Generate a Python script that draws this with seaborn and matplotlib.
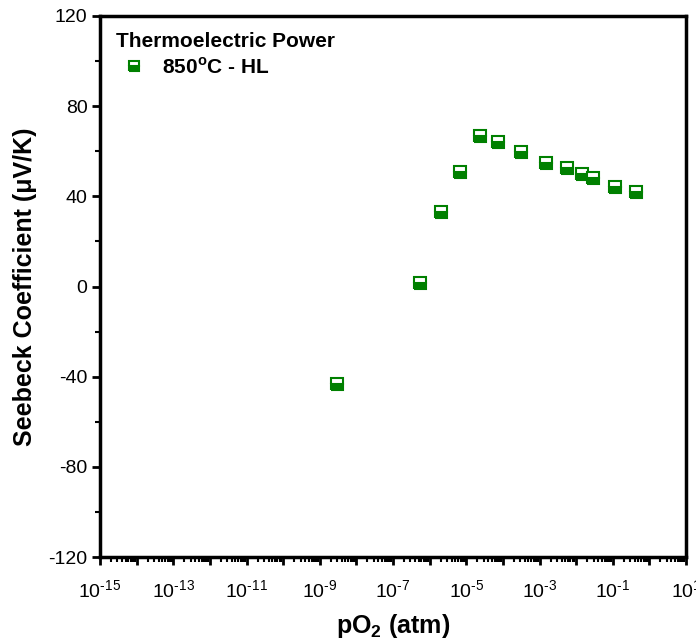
import numpy as np
import pandas as pd
import matplotlib
matplotlib.use("Agg")
import matplotlib.pyplot as plt
import matplotlib.ticker as mticker
import seaborn as sns

# Data
log_po2 = [-8.52, -6.26, -5.68, -5.16, -4.62, -4.13, -3.50, -2.81, -2.24, -1.83, -1.53, -0.93, -0.36]
seebeck = [-43.3, 1.5, 33.0, 50.8, 66.8, 64.0, 59.7, 54.8, 52.6, 50.0, 48.0, 44.0, 42.0]
series_label = "850$^{\\mathbf{o}}$C - HL"
legend_title = "Thermoelectric Power"
x_label = "pO$_\\mathbf{2}$ (atm)"
y_label = "Seebeck Coefficient (\u03bcV/K)"
y_ticks = [-120, -80, -40, 0, 40, 80, 120]
x_exponents = list(range(-15, 2))

df = pd.DataFrame({"pO2": np.power(10.0, log_po2), "S": seebeck})

sns.set_theme(style="ticks")
plt.rcParams["font.family"] = ["Liberation Sans", "DejaVu Sans"]
plt.rcParams["mathtext.fontset"] = "custom"
plt.rcParams["mathtext.rm"] = "Liberation Sans"
plt.rcParams["mathtext.bf"] = "Liberation Sans:bold"
plt.rcParams["axes.unicode_minus"] = False
for k in ["text.color", "axes.labelcolor", "xtick.color", "ytick.color", "axes.edgecolor"]:
    plt.rcParams[k] = "black"

fig = plt.figure(figsize=(6.96, 6.41), dpi=100)
ax = fig.add_axes([100 / 696, (641 - 557) / 641, 586 / 696, 541 / 641])

sns.lineplot(data=df, x="pO2", y="S", ax=ax, estimator=None, sort=False,
             linestyle="", marker="s", markersize=8, fillstyle="bottom",
             color="#008000", markerfacecoloralt="white", markeredgecolor="#008000",
             markeredgewidth=1.5, label=series_label)

ax.set_xscale("log")
ax.set_xlim(1e-15, 10)
ax.set_ylim(-120, 120)

ax.set_xticks([10.0 ** e for e in x_exponents])
ax.set_xticklabels([("$\\mathregular{10^{\\text{%d}}}$" % e) if e % 2 != 0 else "" for e in x_exponents])
ax.xaxis.set_minor_locator(mticker.LogLocator(base=10, subs=np.arange(2, 10), numticks=100))
ax.xaxis.set_minor_formatter(mticker.NullFormatter())

ax.set_yticks(y_ticks)
ax.set_yticklabels([str(v) for v in y_ticks])
ax.yaxis.set_minor_locator(mticker.MultipleLocator(20))

for s in ax.spines.values():
    s.set_linewidth(2.5)
    s.set_color("black")

ax.tick_params(axis="both", which="major", direction="out", length=6, width=2, labelsize=14, colors="black")
ax.tick_params(axis="both", which="minor", direction="out", length=3.5, width=1.5)
ax.tick_params(axis="x", which="major", pad=10)
ax.tick_params(axis="y", which="major", pad=3)

ax.set_xlabel(x_label, fontsize=18, fontweight="bold", labelpad=8)
ax.set_ylabel(y_label, fontsize=18, fontweight="bold", labelpad=8)

leg = ax.legend(title=legend_title, loc="upper left", frameon=False,
                prop={"weight": "bold", "size": 15}, title_fontproperties={"weight": "bold", "size": 15},
                handlelength=1.8, handletextpad=0.45, borderaxespad=0.35, labelspacing=0.3)
leg._legend_box.align = "left"
for h in leg.legend_handles:
    h.set_markersize(7)

fig.savefig("out.png", dpi=100)
